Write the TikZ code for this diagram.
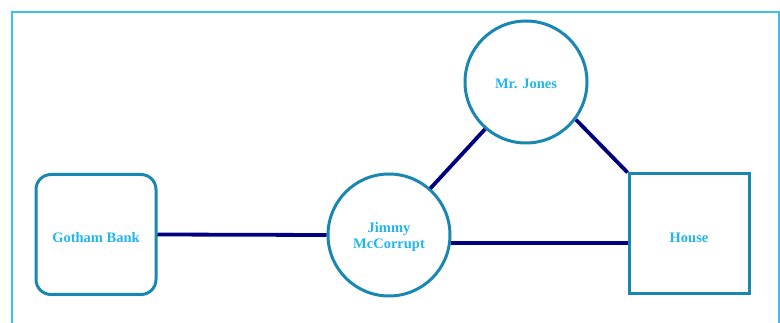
\documentclass[tikz,border=0pt]{standalone}
\usepackage{fontspec}
\setmainfont{Liberation Serif}
\definecolor{nodeborder}{HTML}{1A87B3}
\definecolor{linkcol}{HTML}{000080}
\definecolor{textcol}{HTML}{22B5EC}
\definecolor{framecol}{HTML}{3CC0F0}
\begin{document}
\begin{tikzpicture}[x=1pt,y=-1pt,
  every node/.style={font=\fontsize{14.5}{16}\selectfont\bfseries, text=textcol, align=center},
  entity/.style={draw=nodeborder, line width=3pt, fill=white},
  bankbox/.style={entity, rectangle, rounded corners=15pt, minimum width=120pt, minimum height=120pt},
  housebox/.style={entity, rectangle, minimum width=120pt, minimum height=120pt},
  person/.style={entity, circle, minimum size=122pt, inner sep=0pt},
  link/.style={draw=linkcol, line width=3.8pt}]
\useasboundingbox (0,0) rectangle (780,323);
\draw[framecol, line width=1.6pt] (12,12) rectangle (779,340);
\node[bankbox, label={[yshift=-3.5pt]center:Gotham Bank}] (bank) at (96,234.5) {};
\node[person, label={[yshift=-2pt, align=center]center:Jimmy\\McCorrupt}] (jimmy) at (389,235) {};
\node[person, label={[yshift=-1.5pt]center:Mr. Jones}] (jones) at (526,82) {};
\node[housebox, label={[yshift=-3.5pt]center:House}] (house) at (689,234) {};
\draw[link] (bank.east) -- (jimmy.west);
\draw[link] (jimmy.-7) -- (jimmy.-7 -| house.west);
\draw[link] ([shift={(2pt,-2pt)}]jimmy.51) -- (jones.229);
\draw[link] (jones.-37) -- (house.north west);
\end{tikzpicture}
\end{document}
